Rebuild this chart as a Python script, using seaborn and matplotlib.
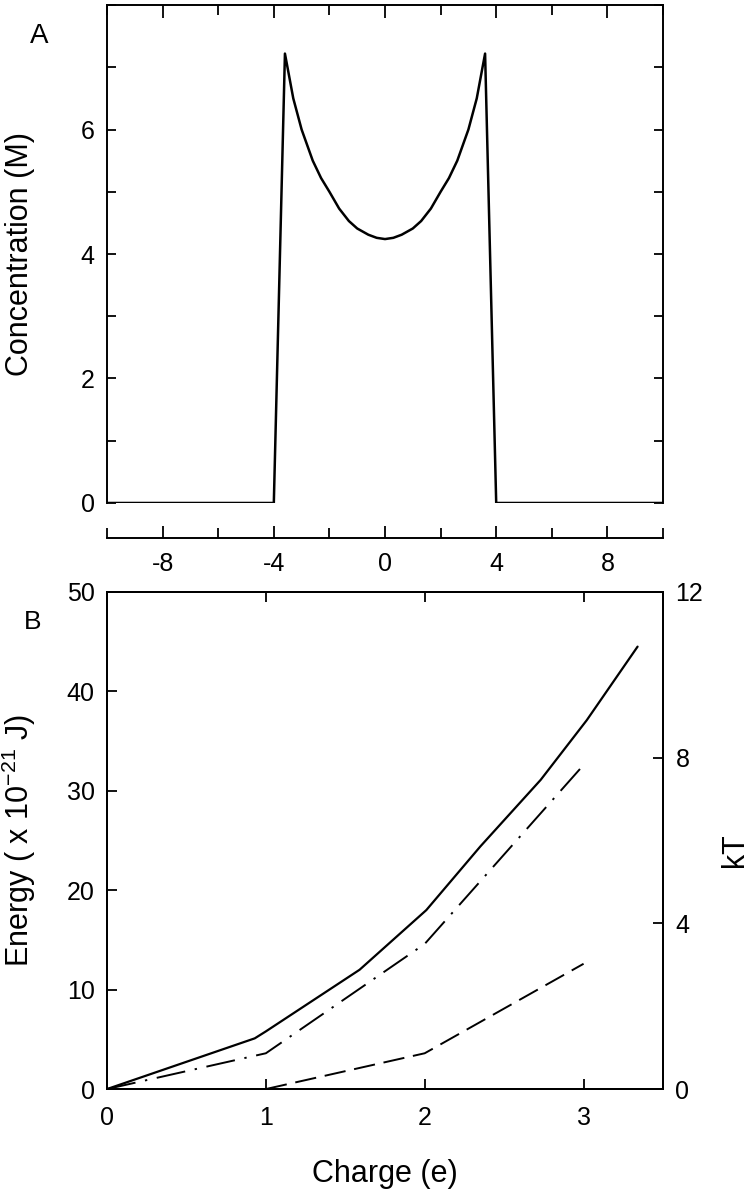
"""
Two-panel figure: ion concentration profile (A) and charging energy vs charge (B).
"""

import numpy as np
import pandas as pd
import matplotlib
matplotlib.use("Agg")
import matplotlib.pyplot as plt
import seaborn as sns
from matplotlib.ticker import MultipleLocator

# ---- data: panel A (concentration profile) ----
position = [-10, -4, -3.6, -3.3, -3.0, -2.6, -2.3, -2.0, -1.65, -1.3, -1.0, -0.6, -0.3, 0,
            0.3, 0.6, 1.0, 1.3, 1.65, 2.0, 2.3, 2.6, 3.0, 3.3, 3.6, 4, 10]
concentration = [0, 0, 7.22, 6.5, 6.0, 5.5, 5.22, 5.0, 4.73, 4.53, 4.41, 4.31, 4.26, 4.24,
                 4.26, 4.31, 4.41, 4.53, 4.73, 5.0, 5.22, 5.5, 6.0, 6.5, 7.22, 0, 0]

# ---- data: panel B (energy vs charge) ----
charge_total = [0, 0.93, 1.0, 1.59, 2.01, 2.35, 2.73, 3.02, 3.34]
energy_total = [0, 5.1, 5.8, 12.0, 18.0, 24.4, 31.1, 37.1, 44.5]

charge_dashdot = [0, 1, 2, 3]
energy_dashdot = [0, 3.6, 14.6, 32.6]

charge_dashed = [1, 2, 3]
energy_dashed = [0, 3.6, 12.6]

x_ticks_a = [-8, -4, 0, 4, 8]
y_ticks_a = [0, 2, 4, 6]
x_ticks_b = [0, 1, 2, 3]
kt_ticks = [0, 4, 8, 12]

sns.set_style("ticks")
plt.rcParams['font.family'] = ['Liberation Sans', 'DejaVu Sans']
plt.rcParams['axes.linewidth'] = 1.4
plt.rcParams['axes.unicode_minus'] = False
plt.rcParams['mathtext.fontset'] = 'custom'
plt.rcParams['mathtext.rm'] = 'Liberation Sans'
for key in ['text.color', 'axes.labelcolor', 'xtick.color', 'ytick.color', 'axes.edgecolor']:
    plt.rcParams[key] = 'black'

TICK_FS = 18
LABEL_FS = 22

fig = plt.figure(figsize=(7.5, 11.99), dpi=100)
axA = fig.add_axes([0.1427, 0.5805, 0.7413, 0.4153])
axB = fig.add_axes([0.1427, 0.0917, 0.7413, 0.4146])

# ---------------- panel A ----------------
df_a = pd.DataFrame({"position": position, "concentration": concentration})
sns.lineplot(data=df_a, x="position", y="concentration", ax=axA,
             color="black", lw=1.8, estimator=None, sort=False)
axA.set_xlim(-10, 10)
axA.set_ylim(0, 8)
axA.spines['bottom'].set_position(('outward', 25))

axA.set_xticks(x_ticks_a)
axA.xaxis.set_minor_locator(MultipleLocator(2))
axA.set_yticks(y_ticks_a)
axA.yaxis.set_minor_locator(MultipleLocator(1))
axA.tick_params(axis='x', which='both', direction='in', top=True, bottom=True,
                width=1.3, labelsize=TICK_FS, pad=10)
axA.tick_params(axis='x', which='major', length=9)
axA.tick_params(axis='x', which='minor', length=7)
axA.tick_params(axis='y', which='both', direction='in', left=True, right=True,
                length=6.5, width=1.3, labelsize=TICK_FS, pad=9)
axA.set_xlabel("")
axA.set_ylabel("Concentration (M)", fontsize=LABEL_FS)
axA.yaxis.set_label_coords(-0.13, 0.5)

# ---------------- panel B ----------------
sns.lineplot(x=charge_total, y=energy_total, ax=axB, color="black", lw=1.6,
             estimator=None, sort=False)
sns.lineplot(x=charge_dashdot, y=energy_dashdot, ax=axB, color="black", lw=1.4,
             estimator=None, sort=False, linestyle=(0, (15, 5, 1.2, 5)))
sns.lineplot(x=charge_dashed, y=energy_dashed, ax=axB, color="black", lw=1.4,
             estimator=None, sort=False, linestyle=(0, (11, 4.5)))
axB.set_xlim(0, 3.5)
axB.set_ylim(0, 50)
axB.set_xticks(x_ticks_b)
axB.yaxis.set_major_locator(MultipleLocator(10))
axB.tick_params(axis='x', direction='in', top=True, bottom=True, length=7,
                width=1.3, labelsize=TICK_FS, pad=12)
axB.tick_params(axis='y', direction='in', left=True, right=False, length=7,
                width=1.3, labelsize=TICK_FS, pad=9)
axB.set_xlabel("Charge (e)", fontsize=LABEL_FS)
axB.xaxis.set_label_coords(0.5, -0.14)
axB.set_ylabel("Energy ( x 10$^{-21}$ J)", fontsize=LABEL_FS)
axB.yaxis.set_label_coords(-0.125, 0.5)

ax2 = axB.twinx()
ax2.set_ylim(0, 12)
ax2.set_yticks(kt_ticks)
ax2.tick_params(axis='y', direction='in', length=7, width=1.3,
                labelsize=TICK_FS, pad=9)
ax2.set_ylabel("kT", fontsize=LABEL_FS)
ax2.yaxis.set_label_coords(1.1025, 0.48)

fig.text(0.052, 0.97, "A", fontsize=20, ha='center', va='center')
fig.text(0.044, 0.481, "B", fontsize=19, ha='center', va='center')

fig.savefig("out.png", dpi=100)
